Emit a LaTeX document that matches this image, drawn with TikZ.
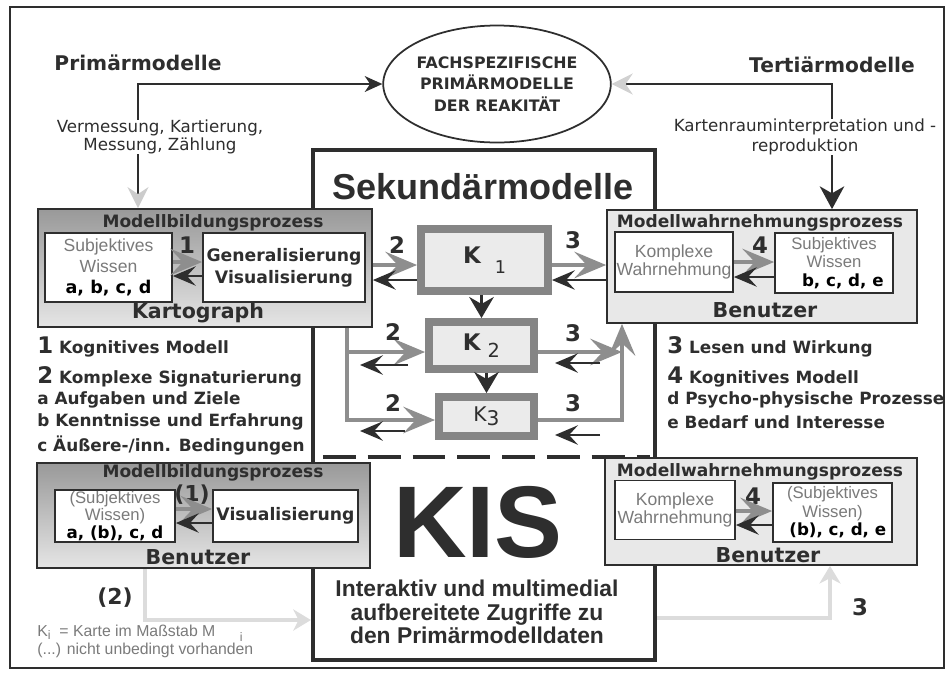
\documentclass[tikz,border=0pt]{standalone}
\usepackage{fontspec}
\setmainfont{DejaVu Sans}
\newfontfamily\arialf{Liberation Sans}
\usetikzlibrary{arrows.meta}
\usetikzlibrary{shapes.geometric}
\usetikzlibrary{calc,positioning}

\definecolor{ink}{HTML}{2E2E2E}
\definecolor{grautxt}{HTML}{7A7A7A}
\definecolor{pfeilgrau}{HTML}{8E8E8E}
\definecolor{krand}{HTML}{858585}
\definecolor{kfuell}{HTML}{EBEBEB}
\definecolor{blass}{HTML}{DCDCDC}

\newcommand{\fs}[2]{\fontsize{#1}{#2}\selectfont}
\newcommand{\grau}[1]{{\arialf\mdseries\color{grautxt}#1}}

\tikzset{
  wh/.style 2 args={minimum width=#1*0.02cm, minimum height=#2*0.02cm},
  titel/.style={font=\fs{9.7}{11}\bfseries, text=ink, inner sep=0pt},
  gross/.style={font=\fs{11.7}{13}\bfseries, text=ink, inner sep=0pt},
  ziffer/.style={font=\fs{13}{14}\bfseries, text=ink, inner sep=0pt},
  klein/.style={font=\fs{9.5}{8.5}, text=ink, inner sep=0pt, align=center},
  legende/.style={font=\fs{9.6}{11}\bfseries, text=ink, inner sep=0pt, anchor=west},
  prozess/.style={draw=ink, line width=1pt, inner sep=0pt},
  innen/.style={draw=ink, line width=1pt, fill=white, inner sep=0pt, align=center},
  karte/.style={draw=krand, line width=4.5pt, fill=kfuell, inner sep=0pt, font=\fs{13}{14}\bfseries, text=ink},
  grauer pfeil/.style={draw=pfeilgrau, line width=2.8pt, -{Stealth[length=18pt,width=15pt,inset=7pt]}},
  dunkler pfeil/.style={draw=ink, line width=1.6pt, -{Stealth[length=13pt,width=11pt,inset=5pt]}},
  blasser pfeil/.style={draw=blass, line width=2.5pt, -{Stealth[length=10pt,width=12pt,inset=3pt]}},
}

\begin{document}
\begin{tikzpicture}[x=0.02cm, y=-0.02cm]
\useasboundingbox (0,0) rectangle (949,674);

% rahmen
\draw[ink, line width=1pt] (10,7) rectangle (944,668);

% sekundaermodelle
\node[draw=ink, line width=2.4pt, wh={342}{510}, inner sep=0pt] (sek) at (484,405) {};
\node[font=\arialf\fs{20.5}{21}\bfseries, text=ink, inner sep=0pt] (sektitel) at (483,187) {Sekundärmodelle};
\draw[ink, line width=2.3pt, dash pattern=on 18.7pt off 6.8pt]
	($(sek.west |- 0,457)+(12,0)$) -- ($(sek.east |- 0,457)+(-7,0)$);
\node[font=\arialf\fs{58}{60}\bfseries, text=ink, inner sep=0pt] (kis) at (478,522) {KIS};
\node[font=\arialf\fs{13}{13.2}\bfseries, text=ink, align=center, inner sep=0pt] (zugriff) at (477,612)
	{Interaktiv und multimedial\\aufbereitete Zugriffe zu\\den Primärmodelldaten};

% primaer / tertiaer
\node[ellipse, draw=ink, line width=1pt, wh={205}{117}, inner sep=0pt, align=center,
	font=\fs{9}{12.3}\bfseries, text=ink] (real) at (497,84)
	{FACHSPEZIFISCHE\\PRIMÄRMODELLE\\DER REAKITÄT};
\node[font=\fs{11.5}{13}\bfseries, text=ink, inner sep=0pt] (prim) at (138,63) {Primärmodelle};
\node[font=\fs{11.5}{13}\bfseries, text=ink, inner sep=0pt] (tert) at (832,65) {Tertiärmodelle};
\node[klein] (verm) at (160,137) {Vermessung, Kartierung,\\Messung, Zählung};
\node[klein, font=\fs{9.5}{11}] (kart) at (805,137) {Kartenrauminterpretation und -\\reproduktion};

% kartograph
\node[prozess, wh={334}{118}, top color=black!40, bottom color=black!10] (bild1) at (205,268) {};
\node[titel] (bild1t) at (213,223) {Modellbildungsprozess};
\node[innen, wh={127}{69}, font=\fs{10}{12}] (subj1) at (108.5,267.5)
	{\grau{Subjektives}\\\grau{Wissen}\\\textbf{a, b, c, d}};
\node[ziffer] (z1) at (187,245) {1};
\node[innen, wh={162}{69}, font=\fs{9.8}{12.5}\bfseries, text=ink] (gen1) at (284,267.5) {Generalisierung\\Visualisierung};
\node[gross] (kartograph) at (198,313) {Kartograph};
\draw[grauer pfeil] (subj1.east |- 0,262) -- (gen1.west |- 0,262);
\draw[dunkler pfeil] (gen1.west |- 0,276) -- (subj1.east |- 0,276);

% benutzer oben
\node[prozess, wh={310}{113}, fill=black!9] (wahr1) at (762,266.5) {};
\node[titel] (wahr1t) at (760,223) {Modellwahrnehmungsprozess};
\node[innen, wh={118}{60}, font=\arialf\fs{10}{10.5}, text=grautxt] (kw1) at (674,262) {Komplexe\\Wahrnehmung};
\node[ziffer] (z4) at (760,245) {4};
\node[innen, wh={118}{60}, font=\fs{9.5}{10.5}] (sw1) at (834,263)
	{\grau{Subjektives}\\\grau{Wissen}\\\hspace*{10pt}\textbf{b, c, d, e}};
\node[gross] (ben1) at (765,310) {Benutzer};
\draw[grauer pfeil] (kw1.east |- 0,262) -- (sw1.west |- 0,262);
\draw[dunkler pfeil] (sw1.west |- 0,277) -- (kw1.east |- 0,277);

% zu- und abgaenge oben
\draw[ink, line width=1.1pt, -{Stealth[length=10pt,width=9pt,inset=3pt]}] (verm.north -| prim) |- (real.west);
\draw[ink, line width=1.1pt, -{Stealth[length=12pt,width=12pt,inset=4pt,color=black!20]}] (verm.south -| prim) -- (bild1.north -| prim);
\draw[ink, line width=1.1pt, -{Stealth[length=12pt,width=12pt,inset=4pt,color=black!18]}] (kart.north -| tert) |- (real.east);
\draw[ink, line width=1.1pt, -{Stealth[length=13pt,width=14pt,inset=4pt]}] (kart.south -| tert) -- (wahr1.north -| tert);

% karten
\node[karte, wh={127}{62}] (K1) at (484.5,260) {K\hspace{8pt}\raisebox{-6pt}{\mdseries\fs{10}{10}1}};
\node[karte, wh={105}{47}] (K2) at (481.5,345.5) {K\hspace{4pt}\raisebox{-4pt}{\mdseries\fs{11}{10}2}};
\node[karte, wh={95}{39}, font=\fs{11.5}{12}] (K3) at (486.5,416.5) {K\raisebox{-2pt}{3}};
\draw[ink, line width=1.6pt, -{Stealth[length=12pt,width=14pt,inset=4pt]}] (K1.south -| K2) -- (K2.north);
\draw[ink, line width=1.6pt, -{Stealth[length=12pt,width=14pt,inset=4pt]}] (K2.south -| K3) -- (K3.north);

% links zu den karten
\coordinate (lknick) at (347,420);
\coordinate (l2a) at (408,365);
\coordinate (l2b) at (360,365);
\coordinate (l3a) at (405,431);
\coordinate (l3b) at (360,431);
\draw[grauer pfeil] (bild1.east |- 0,265) -- (K1.west |- 0,265);
\draw[dunkler pfeil] (K1.west |- 0,280) -- (bild1.east |- 0,280);
\draw[grauer pfeil] (bild1.south -| lknick) |- (K3.west |- lknick);
\draw[grauer pfeil] (lknick |- 0,352) -- (K2.west |- 0,352);
\draw[dunkler pfeil] (l2a) -- (l2b);
\draw[dunkler pfeil] (l3a) -- (l3b);
\node[ziffer] (z2a) at (397,245) {2};
\node[ziffer] (z2b) at (393,332) {2};
\node[ziffer] (z2c) at (393,403) {2};

% rechts zum benutzer
\coordinate (rknick) at (622,420);
\coordinate (r2a) at (600,363);
\coordinate (r2b) at (555,363);
\coordinate (r3a) at (600,435);
\coordinate (r3b) at (555,435);
\draw[grauer pfeil] (K1.east |- 0,265) -- (wahr1.west |- 0,265);
\draw[dunkler pfeil] (wahr1.west |- 0,280) -- (K1.east |- 0,280);
\draw[grauer pfeil] (K3.east |- rknick) -| (wahr1.south -| rknick);
\draw[grauer pfeil] (K2.east |- 0,352) -- (rknick |- 0,352);
\draw[dunkler pfeil] (r2a) -- (r2b);
\draw[dunkler pfeil] (r3a) -- (r3b);
\node[ziffer] (z3a) at (573,240) {3};
\node[ziffer] (z3b) at (573,333) {3};
\node[ziffer] (z3c) at (573,403) {3};

% legenden
\node[legende] (l1) at (37,347) {{\fs{13}{14}1} Kognitives Modell};
\node[legende] (l2) at (37,377) {{\fs{13}{14}2} Komplexe Signaturierung};
\node[legende] (la) at (37,400) {a Aufgaben und Ziele};
\node[legende] (lb) at (37,422) {b Kenntnisse und Erfahrung};
\node[legende] (lc) at (37,445) {c Äußere-/inn. Bedingungen};
\node[legende] (r1) at (667,347) {{\fs{13}{14}3} Lesen und Wirkung};
\node[legende] (r2) at (667,377) {{\fs{13}{14}4} Kognitives Modell};
\node[legende] (rd) at (667,400) {d Psycho-physische Prozesse};
\node[legende] (re) at (667,422) {e Bedarf und Interesse};

% benutzer (KIS) links
\node[prozess, wh={333}{105}, top color=black!40, bottom color=black!10] (bild2) at (203.5,515.5) {};
\node[titel] (bild2t) at (213,473) {Modellbildungsprozess};
\node[innen, wh={120}{52}, font=\fs{9.5}{9.8}] (sw2) at (115,516)
	{\grau{(Subjektives}\\\grau{Wissen)}\\\textbf{a, (b), c, d}};
\node[ziffer, font=\fs{12.5}{14}\bfseries] (z1k) at (192,495) {(1)};
\node[innen, wh={145}{52}, font=\fs{9.8}{11}\bfseries, text=ink] (vis2) at (285.5,516) {Visualisierung};
\node[gross] (ben2) at (198,557) {Benutzer};
\draw[grauer pfeil] (sw2.east |- 0,509) -- (vis2.west |- 0,509);
\draw[dunkler pfeil] (vis2.west |- 0,523) -- (sw2.east |- 0,523);

% benutzer (KIS) rechts
\node[prozess, wh={312}{107}, fill=black!9] (wahr2) at (761,511.5) {};
\node[titel] (wahr2t) at (760,472) {Modellwahrnehmungsprozess};
\node[innen, wh={120}{59}, font=\arialf\fs{10}{10.5}, text=grautxt] (kw2) at (675,510) {Komplexe\\Wahrnehmung};
\node[ziffer] (z4b) at (753,496) {4};
\node[innen, wh={119}{59}, font=\fs{9.5}{10.5}] (sw3) at (832.5,512.5)
	{\grau{(Subjektives}\\\grau{Wissen)}\\\hspace*{6pt}\textbf{(b), c, d, e}};
\node[gross] (ben3) at (768,555) {Benutzer};
\draw[grauer pfeil] (kw2.east |- 0,511) -- (sw3.west |- 0,511);
\draw[dunkler pfeil] (sw3.west |- 0,525) -- (kw2.east |- 0,525);

% blasse rueckwege
\coordinate (fk2) at (145,620);
\coordinate (fk3) at (830,618);
\draw[blasser pfeil] (bild2.south -| fk2) |- (sek.west |- fk2);
\draw[blasser pfeil] (sek.east |- fk3) -| (wahr2.south -| fk3);
\node[ziffer, font=\fs{12.5}{14}\bfseries] (z2k) at (115,598) {(2)};
\node[ziffer] (z3k) at (860,607) {3};

% fussnoten
\node[font=\arialf\fs{9}{10}, text=grautxt, anchor=west, inner sep=0pt] (fn1) at (37,633)
	{K\raisebox{-2pt}{\fs{7}{7}i}\ \ = Karte im Maßstab M\hspace{14pt}\raisebox{-3pt}{\fs{7}{7}i}};
\node[font=\arialf\fs{9}{10}, text=grautxt, anchor=west, inner sep=0pt] (fn2) at (37,650)
	{(...) nicht unbedingt vorhanden};
\end{tikzpicture}
\end{document}
